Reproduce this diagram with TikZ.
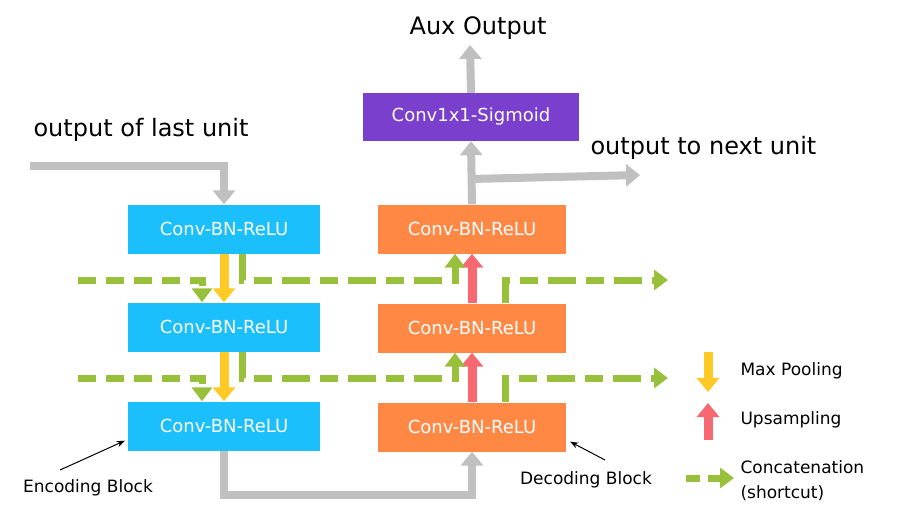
\documentclass[tikz,border=0pt]{standalone}
\usepackage{fontspec}
\setmainfont{DejaVu Sans}
\usetikzlibrary{arrows.meta}
\definecolor{cblue}{HTML}{1ABFFC}
\definecolor{corange}{HTML}{FF8844}
\definecolor{cpurple}{HTML}{7A3FCC}
\definecolor{cgray}{HTML}{C0C0C0}
\definecolor{cyellow}{HTML}{FFC926}
\definecolor{cred}{HTML}{F86870}
\definecolor{cgreen}{HTML}{99C03A}
\begin{document}
\begin{tikzpicture}[x=1pt,y=-1pt,
 box/.style={minimum width=192pt,minimum height=49pt,inner sep=0pt,text=white,font=\fontsize{18}{20}\selectfont},
 enc/.style={box,fill=cblue},
 dec/.style={box,fill=corange,minimum width=188pt},
 garr/.style={draw=cgray,line width=8pt,-{Triangle[length=14pt,width=22pt]}},
 gline/.style={draw=cgray,line width=8pt},
 yarr/.style={draw=cyellow,line width=9pt,-{Triangle[length=14pt,width=22pt]}},
 rarr/.style={draw=cred,line width=9pt,-{Triangle[length=14pt,width=22pt]}},
 carr/.style={draw=cgreen,line width=7pt,dash pattern=on 18pt off 10pt,-{Triangle[length=14pt,width=20pt]}},
 lbl/.style={font=\fontsize{17}{19}\selectfont},
 big/.style={font=\fontsize{24}{28}\selectfont}]
\useasboundingbox (0,0) rectangle (900,523);
\node[enc] (e1) at (224,229) {Conv-BN-ReLU};
\node[enc] (e2) at (224,327) {Conv-BN-ReLU};
\node[enc] (e3) at (224,426) {Conv-BN-ReLU};
\node[dec] (d1) at (472,229) {Conv-BN-ReLU};
\node[dec] (d2) at (472,328) {Conv-BN-ReLU};
\node[dec] (d3) at (472,427) {Conv-BN-ReLU};
\node[box,fill=cpurple,minimum width=216pt,minimum height=48pt] (p) at (471,117) {Conv1x1-Sigmoid};
\node[big,anchor=west] (in) at (30,130) {output of last unit};
\node[big,anchor=west] (out) at (587,148) {output to next unit};
\node[big] (aux) at (478,28) {Aux Output};
\coordinate (c0) at (30,166);
\coordinate (c1) at (640,175);
\coordinate (c2) at (470,45);
% gray
\draw[garr] (c0) -| (e1.north);
\draw[garr] (e3.south) |- (470,495) -| (d3.south);
\draw[garr] (d1.north) -- (p.south);
\draw[garr] (470,179) -- (c1);
\draw[garr] (p.north) -- (c2);
% yellow/red
\draw[yarr] (e1.south) -- (e2.north);
\draw[yarr] (e2.south) -- (e3.north);
\draw[rarr] (d2.north) -- (d1.south);
\draw[rarr] (d3.north) -- (d2.south);
% green
\coordinate (g1) at (78,280); \coordinate (g2) at (78,378);
\coordinate (g3) at (668,280); \coordinate (g4) at (668,378);
\draw[carr] (g1) -| ([xshift=-22pt]e2.north);
\draw[carr] (g2) -| ([xshift=-22pt]e3.north);
\draw[carr,dash pattern=on 28pt off 10pt on 18pt off 10pt] ([xshift=18pt]e1.south) |- (455,280) -- ([xshift=-17pt]d1.south);
\draw[carr,dash pattern=on 28pt off 10pt on 18pt off 10pt] ([xshift=18pt]e2.south) |- (455,378) -- ([xshift=-17pt]d2.south);
\draw[carr,dash pattern=on 28pt off 10pt on 18pt off 10pt] ([xshift=33pt]d2.north) |- (g3);
\draw[carr,dash pattern=on 28pt off 10pt on 18pt off 10pt] ([xshift=33pt]d3.north) |- (g4);
% block labels
\node[lbl] (eb) at (88,488) {Encoding Block};
\node[lbl] (db) at (586,480) {Decoding Block};
\draw[-{Stealth[length=8pt]},line width=1pt] (60,470) -- ([xshift=-3pt,yshift=10pt]e3.south west);
\draw[-{Stealth[length=8pt]},line width=1pt] (605,460) -- ([xshift=4pt,yshift=10pt]d3.south east);
% legend
\coordinate (l1) at (708,352); \coordinate (l2) at (708,392);
\coordinate (l3) at (708,440); \coordinate (l4) at (708,403);
\coordinate (l5) at (686,478); \coordinate (l6) at (734,478);
\draw[yarr] (l1) -- (l2);
\draw[rarr] (l3) -- (l4);
\draw[carr,dash pattern=on 14pt off 8pt] (l5) -- (l6);
\node[lbl,anchor=west] (t1) at (737,371) {Max Pooling};
\node[lbl,anchor=west] (t2) at (737,420) {Upsampling};
\node[lbl,anchor=west] (t3) at (737,467) {Concatenation};
\node[lbl,anchor=west] (t4) at (737,493) {(shortcut)};
\end{tikzpicture}
\end{document}
